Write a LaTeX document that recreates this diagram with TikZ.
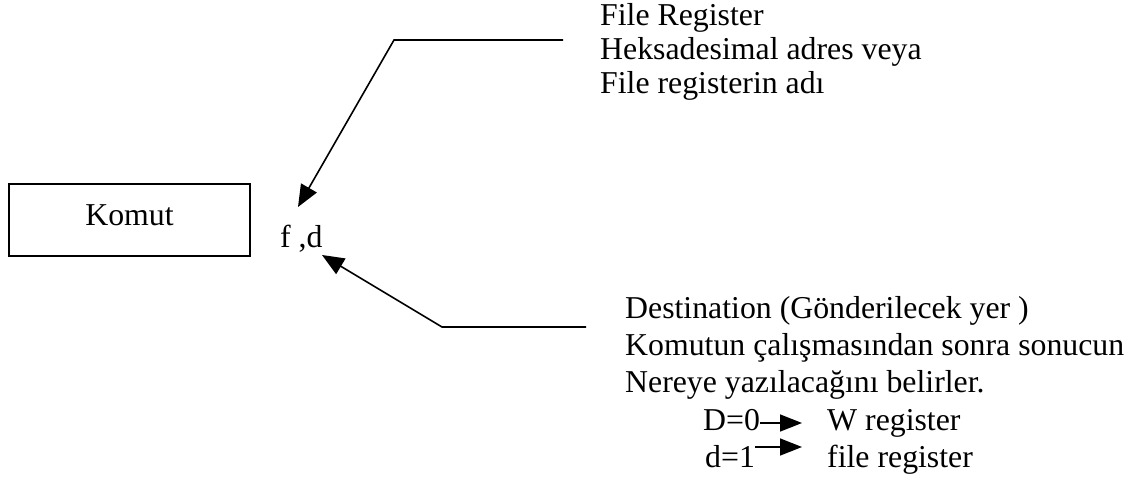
\documentclass[tikz,border=0pt]{standalone}
\usepackage{fontspec}
\setmainfont{Liberation Serif}
\usetikzlibrary{arrows.meta,calc}
\begin{document}
\begin{tikzpicture}[x=1pt,y=-1pt,
  txt/.style={inner sep=0pt,anchor=base west,font=\fontsize{31.8}{37}\selectfont},
  conn/.style={line width=1.6pt,-{Triangle[length=22pt,width=18pt]}},
  smallarr/.style={line width=1.6pt,-{Triangle[length=22pt,width=17pt]}},
  boxst/.style={draw,line width=1.6pt,minimum width=241pt,minimum height=72pt,inner sep=0pt}]
\useasboundingbox (0,0) rectangle (1136,479);
% box
\node[boxst] (komutbox) at (129.5,220) {};
\node[txt,anchor=base] (komut) at (129.5,225) {Komut};
\node[txt] (fd) at (280,247) {f ,d};
% top text
\node[txt] (t1) at (600,25) {File Register};
\node[txt] (t2) at (600,59) {Heksadesimal adres veya};
\node[txt] (t3) at (600,93) {File registerin adı};
% bottom text
\node[txt] (b1) at (625,318) {Destination (Gönderilecek yer )};
\node[txt] (b2) at (625,355) {Komutun çalışmasından sonra sonucun};
\node[txt] (b3) at (625,392) {Nereye yazılacağını belirler.};
\node[txt] (d0) at (703,430) {D=0};
\node[txt] (wreg) at (827,430) {W register};
\node[txt] (d1) at (705,467) {d=1};
\node[txt] (freg) at (827,467) {file register};
% connector points
\coordinate (topR) at (563,40);
\coordinate (topL) at (394,40);
\coordinate (botR) at (586,327);
\coordinate (botL) at (442,327);
\draw[conn] (topR) -- (topL) -- ($(fd.base west)+(18,-40)$);
\draw[conn] (botR) -- (botL) -- ($(fd.base west)+(42,8)$);
% small arrows
\draw[smallarr] ($(d0.base east)+(0,-7)$) -- ($(wreg.base west)+(-25,-7)$);
\draw[smallarr] ($(d1.base east)+(0,-20)$) -- ($(freg.base west)+(-25,-20)$);
\end{tikzpicture}
\end{document}
